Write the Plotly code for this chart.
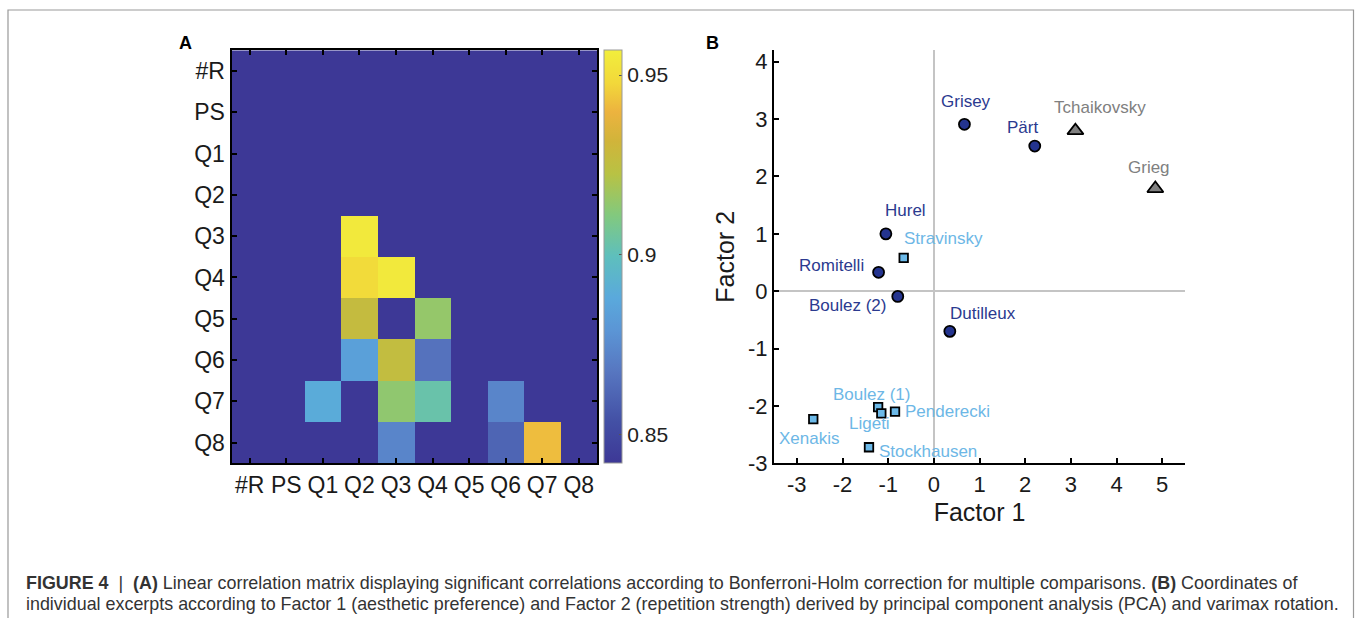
import plotly.graph_objects as go

# ---------------- data ----------------
var_labels = ["#R", "PS", "Q1", "Q2", "Q3", "Q4", "Q5", "Q6", "Q7", "Q8"]

# correlation matrix (rows top->bottom, cols left->right); non-significant cells at floor value
corr = [
    [0.842, 0.842, 0.842, 0.842, 0.842, 0.842, 0.842, 0.842, 0.842, 0.842],  # #R
    [0.842, 0.842, 0.842, 0.842, 0.842, 0.842, 0.842, 0.842, 0.842, 0.842],  # PS
    [0.842, 0.842, 0.842, 0.842, 0.842, 0.842, 0.842, 0.842, 0.842, 0.842],  # Q1
    [0.842, 0.842, 0.842, 0.842, 0.842, 0.842, 0.842, 0.842, 0.842, 0.842],  # Q2
    [0.842, 0.842, 0.842, 0.955, 0.842, 0.842, 0.842, 0.842, 0.842, 0.842],  # Q3
    [0.842, 0.842, 0.842, 0.949, 0.955, 0.842, 0.842, 0.842, 0.842, 0.842],  # Q4
    [0.842, 0.842, 0.842, 0.927, 0.842, 0.915, 0.842, 0.842, 0.842, 0.842],  # Q5
    [0.842, 0.842, 0.842, 0.884, 0.926, 0.866, 0.842, 0.842, 0.842, 0.842],  # Q6
    [0.842, 0.842, 0.889, 0.842, 0.914, 0.903, 0.842, 0.873, 0.842, 0.842],  # Q7
    [0.842, 0.842, 0.842, 0.842, 0.873, 0.842, 0.842, 0.861, 0.942, 0.842],  # Q8
]
cbar_ticks = [0.85, 0.9, 0.95]

# PCA coordinates
modern_names = ["Grisey", "Pärt", "Hurel", "Romitelli", "Boulez (2)", "Dutilleux"]
modern_f1 = [0.67, 2.21, -1.05, -1.21, -0.79, 0.35]
modern_f2 = [2.91, 2.53, 1.00, 0.33, -0.09, -0.70]

complex_names = ["Stravinsky", "Boulez (1)", "Ligeti", "Penderecki", "Xenakis", "Stockhausen"]
complex_f1 = [-0.66, -1.22, -1.15, -0.85, -2.64, -1.42]
complex_f2 = [0.58, -2.02, -2.13, -2.10, -2.23, -2.72]

romantic_names = ["Tchaikovsky", "Grieg"]
romantic_f1 = [3.10, 4.85]
romantic_f2 = [2.80, 1.79]

x_ticks = [-3, -2, -1, 0, 1, 2, 3, 4, 5]
y_ticks = [-3, -2, -1, 0, 1, 2, 3, 4]

# ---------------- styling ----------------
W, H = 1356, 618
H_EFF = 604          # drawable height the page actually gets in the viewer
FONT = "Liberation Sans, Arial, Helvetica, sans-serif"
NAVY = "#24348f"
NAVY_TXT = "#2b3a8f"
LIGHT = "#6cb9e8"
LIGHT_TXT = "#6db7e6"
GRAY = "#808080"

# label offsets in pixels (xshift, yshift)
modern_off = [(2, 23), (-12, 19), (20, 23), (-47, 7), (-50, -9), (33, 18)]
complex_off = [(40, 19), (-7, 13), (-12, -10), (52, 0), (-4, -19), (59, -4)]
romantic_off = [(25, 23), (-6, 21)]

parula_like = [
    [0.00, "#3d3896"],
    [0.10, "#4350a5"],
    [0.22, "#5776c0"],
    [0.32, "#5b95d5"],
    [0.40, "#5aa9dc"],
    [0.50, "#5ebfbd"],
    [0.60, "#82c97e"],
    [0.70, "#b8c244"],
    [0.78, "#d1b43a"],
    [0.85, "#ecb33f"],
    [0.92, "#f2d83a"],
    [1.00, "#f2ee3c"],
]

def px_x(p):
    return p / W

def px_y(p):
    return 1 - p / H_EFF

fig = go.Figure()

fig.add_trace(go.Heatmap(
    z=corr, x=var_labels, y=var_labels,
    colorscale=parula_like, zmin=0.842, zmax=0.957,
    xaxis="x", yaxis="y", xgap=0, ygap=0,
    colorbar=dict(
        x=px_x(604), xanchor="left", xpad=0,
        y=px_y(462), yanchor="bottom", ypad=0,
        len=(462 - 49) / H_EFF, lenmode="fraction",
        thickness=18, thicknessmode="pixels",
        outlinecolor="#999999", outlinewidth=1,
        tickvals=cbar_ticks, ticktext=["0.85", "0.9", "0.95"],
        ticks="inside", ticklen=3, tickcolor="#555555",
        tickfont=dict(family=FONT, size=21, color="#222222"),
    ),
))

def add_group(names, xs, ys, offs, symbol, fill, size, txtcolor):
    fig.add_trace(go.Scatter(
        x=xs, y=ys, mode="markers", xaxis="x2", yaxis="y2",
        marker=dict(symbol=symbol, color=fill, size=size,
                    line=dict(color="black", width=1.8)),
        showlegend=False, hoverinfo="text", text=names,
    ))
    for n, x, y, (dx, dy) in zip(names, xs, ys, offs):
        fig.add_annotation(x=x, y=y, xref="x2", yref="y2", text=n,
                           showarrow=False, xshift=dx, yshift=dy,
                           xanchor="center", yanchor="middle",
                           font=dict(family=FONT, size=17, color=txtcolor))

add_group(modern_names, modern_f1, modern_f2, modern_off, "circle", NAVY, 11, NAVY_TXT)
add_group(complex_names, complex_f1, complex_f2, complex_off, "square", LIGHT, 8.5, LIGHT_TXT)
add_group(romantic_names, romantic_f1, romantic_f2, romantic_off, "triangle-up", GRAY, 14, GRAY)

axis_common = dict(showline=True, linecolor="black", linewidth=2,
                   ticks="inside", tickcolor="black", tickwidth=1.5, ticklen=5,
                   tickfont=dict(family=FONT, size=22, color="#1a1a1a"),
                   showgrid=False)
heat_axis = dict(axis_common, tickfont=dict(family=FONT, size=23, color="#1a1a1a"))

fig.update_layout(
    width=W, height=H, autosize=False,
    margin=dict(l=0, r=0, t=0, b=0),
    paper_bgcolor="white", plot_bgcolor="white",
    showlegend=False,
    xaxis=dict(domain=[px_x(231.5), px_x(597)], anchor="y", mirror="ticks",
               tickvals=var_labels, type="category", zeroline=False, **heat_axis),
    yaxis=dict(domain=[px_y(462.3), px_y(49.3)], anchor="x", mirror="ticks",
               autorange="reversed", type="category", zeroline=False, **heat_axis),
    xaxis2=dict(domain=[px_x(774), px_x(1185)], anchor="y2", range=[-3.5, 5.5],
                tickvals=x_ticks, ticktext=[str(v) for v in x_ticks],
                zeroline=True, zerolinecolor="#c4c4c4", zerolinewidth=1.5,
                title=dict(text="Factor 1", font=dict(family=FONT, size=25, color="#1a1a1a"), standoff=8),
                **axis_common),
    yaxis2=dict(domain=[px_y(462.3), px_y(49.3)], anchor="x2", range=[-3, 4.2],
                tickvals=y_ticks, ticktext=[str(v) for v in y_ticks],
                zeroline=True, zerolinecolor="#c4c4c4", zerolinewidth=1.5,
                title=dict(text="Factor 2", font=dict(family=FONT, size=25, color="#1a1a1a"), standoff=6),
                **axis_common),
)

# panel letters
fig.add_annotation(x=px_x(185), y=px_y(42), xref="paper", yref="paper", text="<b>A</b>",
                   showarrow=False, xanchor="center", yanchor="middle",
                   font=dict(family=FONT, size=18, color="black"))
fig.add_annotation(x=px_x(713), y=px_y(42), xref="paper", yref="paper", text="<b>B</b>",
                   showarrow=False, xanchor="center", yanchor="middle",
                   font=dict(family=FONT, size=18, color="black"))

# caption
cap1 = ("<b>FIGURE 4</b>  |  <b>(A)</b> Linear correlation matrix displaying significant correlations "
        "according to Bonferroni-Holm correction for multiple comparisons. <b>(B)</b> Coordinates of")
cap2 = ("individual excerpts according to Factor 1 (aesthetic preference) and Factor 2 (repetition strength) "
        "derived by principal component analysis (PCA) and varimax rotation.")
fig.add_annotation(x=px_x(24), y=px_y(582), xref="paper", yref="paper", text=cap1,
                   showarrow=False, xanchor="left", yanchor="middle",
                   font=dict(family=FONT, size=17.9, color="#333333"))
fig.add_annotation(x=px_x(24), y=px_y(603), xref="paper", yref="paper", text=cap2,
                   showarrow=False, xanchor="left", yanchor="middle",
                   font=dict(family=FONT, size=17.9, color="#333333"))

# outer frame of the figure panel (left, top, right edges; bottom runs off the page)
fx0, fx1, fy_top, fy_bot = px_x(8), px_x(1353.5), px_y(9), px_y(640)
fig.add_shape(type="path", xref="paper", yref="paper",
              path=f"M {fx0},{fy_bot} L {fx0},{fy_top} L {fx1},{fy_top} L {fx1},{fy_bot}",
              line=dict(color="#999999", width=1.2), layer="below")

page_css = (
    "html,body{margin:0;padding:0;overflow:hidden;}"
    ".main-svg,.svg-container,.plot-container,.plotly-graph-div{overflow:visible !important;}"
)
fig.write_html(
    "out.html",
    config={"displayModeBar": False, "responsive": False},
    post_script=("var st=document.createElement('style');st.textContent='" + page_css + "';"
                 "document.head.appendChild(st);window.scrollTo(0,0);"),
)
